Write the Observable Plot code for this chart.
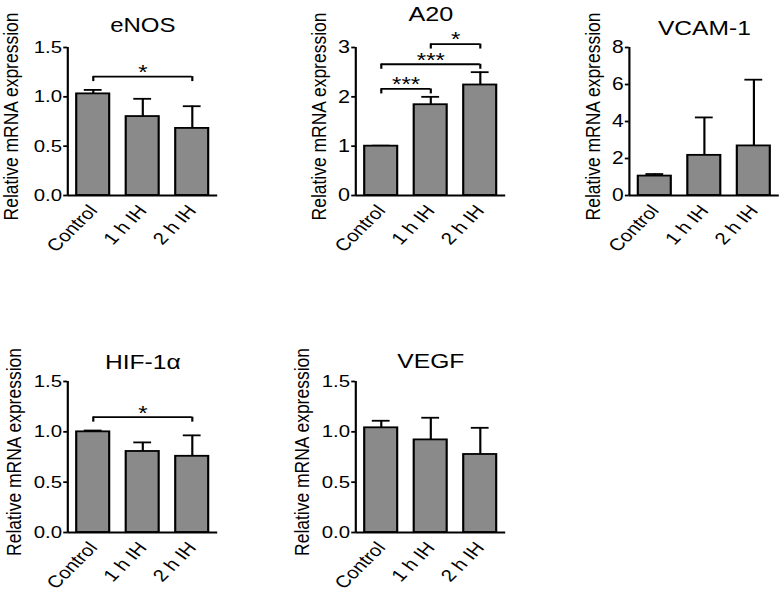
<!DOCTYPE html>
<html>
<head>
<meta charset="utf-8">
<script src="https://cdn.jsdelivr.net/npm/d3@7"></script>
<script src="https://cdn.jsdelivr.net/npm/@observablehq/plot@0.6"></script>
<style>
  html, body { margin: 0; padding: 0; background: #fff; overflow: hidden; }
  #wrap { position: relative; width: 653px; height: 597px; transform: scaleX(1.2); transform-origin: 0 0; }
  #wrap > svg { position: absolute; }
</style>
</head>
<body>
<div id="wrap"></div>
<script>
// ---------- data ----------
const categories = ["Control", "1 h IH", "2 h IH"];
const genes = ["eNOS", "A20", "VCAM-1", "HIF-1α", "VEGF"];
const yLabel = "Relative mRNA expression";

const eNOSMean = [1.03, 0.80, 0.68];
const eNOSSem  = [0.04, 0.18, 0.225];
const a20Mean  = [1.00, 1.84, 2.24];
const a20Sem   = [0.01, 0.16, 0.26];
const vcamMean = [1.05, 2.17, 2.68];
const vcamSem  = [0.11, 2.05, 3.58];
const hifMean  = [1.00, 0.805, 0.757];
const hifSem   = [0.013, 0.09, 0.208];
const vegfMean = [1.04, 0.92, 0.775];
const vegfSem  = [0.07, 0.22, 0.265];

const eNOSTicks = [0, 0.5, 1.0, 1.5];
const a20Ticks  = [0, 1, 2, 3];
const vcamTicks = [0, 2, 4, 6, 8];
const hifTicks  = [0, 0.5, 1.0, 1.5];
const vegfTicks = [0, 0.5, 1.0, 1.5];

// significance brackets
const sigGene  = ["eNOS", "A20", "A20", "A20", "HIF-1α"];
const sigFrom  = [0, 0, 0, 1, 0];
const sigTo    = [2, 1, 2, 2, 2];
const sigLevel = [1.205, 2.16, 2.66, 3.07, 1.146];
const sigLabel = ["*", "***", "***", "*", "*"];

// ---------- layout (style only) ----------
const FONT = "'Liberation Sans', Arial, Helvetica, sans-serif";
const layout = {
  "eNOS":   {left: 0,   top: 0,   height: 290, mt: 47, mb: 95, labelDx: -46.7, titleDy: -22,  titleSize: 20,   tickSize: 17},
  "A20":    {left: 240, top: 0,   height: 290, mt: 47, mb: 95, labelDx: -30.6, titleDy: -33,  titleSize: 21,   tickSize: 18},
  "VCAM-1": {left: 468, top: 0,   height: 290, mt: 47, mb: 95, labelDx: -30,   titleDy: -19,  titleSize: 20.5, tickSize: 17.5},
  "HIF-1α": {left: 0,   top: 300, height: 297, mt: 81, mb: 65, labelDx: -44.4, titleDy: -19,  titleSize: 20.5, tickSize: 17},
  "VEGF":   {left: 240, top: 300, height: 297, mt: 81, mb: 65, labelDx: -44.4, titleDy: -20.5, titleSize: 20.5, tickSize: 17}
};

const xDomain = [-0.515, 2.515];
const halfBar = 0.333;
const halfCap = 0.18;
const SW = 1.8;

function panel(gene, mean, sem, ticks, fmt) {
  const cfg = layout[gene];
  const rows = categories.map((c, i) => ({i, c, mean: mean[i], top: mean[i] + sem[i]}));
  const sig = sigGene.map((g, k) => ({g, from: sigFrom[k], to: sigTo[k], level: sigLevel[k], label: sigLabel[k]}))
                     .filter(d => d.g === gene);
  const ends = sig.flatMap(d => [{x: d.from, y: d.level}, {x: d.to, y: d.level}]);
  const svg = Plot.plot({
    width: 185, height: cfg.height,
    marginLeft: 56, marginRight: 4, marginTop: cfg.mt, marginBottom: cfg.mb,
    style: {fontFamily: FONT, overflow: "visible", maxWidth: "none", background: "transparent", color: "black"},
    x: {type: "linear", domain: xDomain, axis: null},
    y: {domain: [0, ticks[ticks.length - 1]], axis: null},
    marks: [
      Plot.ruleX(rows, {x: "i", y1: "mean", y2: "top", stroke: "black", strokeWidth: SW}),
      Plot.ruleY(rows, {x1: d => d.i - halfCap, x2: d => d.i + halfCap, y: "top", stroke: "black", strokeWidth: SW}),
      Plot.rect(rows, {x1: d => d.i - halfBar, x2: d => d.i + halfBar, y1: 0, y2: "mean",
                       fill: "#8a8a8a", stroke: "black", strokeWidth: SW}),
      Plot.ruleY([0], {stroke: "black", strokeWidth: SW}),
      Plot.ruleX([xDomain[0]], {stroke: "black", strokeWidth: SW}),
      Plot.axisY({ticks, tickFormat: fmt, tickSize: 3.3, tickPadding: 1.5, fontSize: cfg.tickSize,
                  label: null, strokeWidth: SW}),
      Plot.axisX({ticks: [0, 1, 2], tickFormat: i => categories[i], tickRotate: -50,
                  tickSize: 0, tickPadding: 12, fontSize: 17, label: null}),
      Plot.ruleY(sig, {x1: "from", x2: "to", y: "level", stroke: "black", strokeWidth: SW}),
      Plot.ruleX(ends, {x: "x", y1: "y", y2: "y", insetBottom: -5, stroke: "black", strokeWidth: SW}),
      Plot.text(sig, {x: d => (d.from + d.to) / 2, y: "level", text: "label", dy: -4, fontSize: 20, fill: "black"}),
      Plot.text([gene], {text: d => d, frameAnchor: "top", lineAnchor: "middle", textAnchor: "middle",
                         dy: cfg.titleDy, fontSize: cfg.titleSize, fill: "black"}),
      Plot.text([yLabel], {text: d => d, frameAnchor: "left", rotate: -90, textAnchor: "middle", lineAnchor: "middle",
                           dx: cfg.labelDx, dy: -5, fontSize: 17.5, fill: "black"})
    ]
  });
  svg.style.left = cfg.left + "px";
  svg.style.top = cfg.top + "px";
  document.getElementById("wrap").appendChild(svg);
}

const f1 = d3.format(".1f");
const f0 = d3.format("d");
panel("eNOS", eNOSMean, eNOSSem, eNOSTicks, f1);
panel("A20", a20Mean, a20Sem, a20Ticks, f0);
panel("VCAM-1", vcamMean, vcamSem, vcamTicks, f0);
panel("HIF-1α", hifMean, hifSem, hifTicks, f1);
panel("VEGF", vegfMean, vegfSem, vegfTicks, f1);
</script>
</body>
</html>
